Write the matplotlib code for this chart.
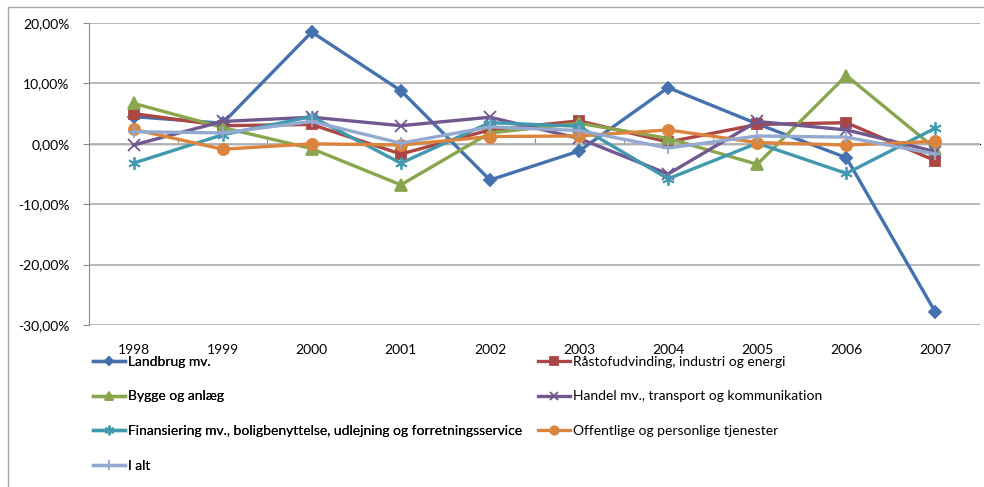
import matplotlib.pyplot as plt
from matplotlib.patches import Rectangle
from matplotlib.ticker import FuncFormatter, MultipleLocator

plt.rcParams['font.family'] = ['Lato', 'DejaVu Sans']

years = ['1998', '1999', '2000', '2001', '2002', '2003', '2004', '2005', '2006', '2007']

# vækstrater i procent
landbrug = [4.5, 3.4, 18.5, 8.8, -6.0, -1.2, 9.3, 3.3, -2.3, -27.9]
raastof = [5.0, 3.0, 3.2, -1.7, 2.3, 3.8, 0.3, 3.2, 3.5, -2.8]
bygge = [6.7, 2.7, -0.8, -6.8, 1.8, 3.4, 0.9, -3.4, 11.3, -0.8]
handel = [-0.2, 3.7, 4.4, 3.0, 4.4, 0.9, -5.0, 3.7, 2.3, -1.3]
finans = [-3.2, 1.5, 4.5, -3.2, 3.5, 2.9, -5.8, 0.1, -4.9, 2.6]
offentlig = [2.4, -0.9, 0.0, -0.2, 1.2, 1.3, 2.3, 0.2, -0.2, 0.4]
ialt = [2.0, 1.8, 3.7, 0.1, 2.8, 2.2, -0.7, 1.3, 1.1, -1.7]

labels = ['Landbrug mv.',
          'Råstofudvinding, industri og energi',
          'Bygge og anlæg',
          'Handel mv., transport og kommunikation',
          'Finansiering mv., boligbenyttelse, udlejning og forretningsservice',
          'Offentlige og personlige tjenester',
          'I alt']
series = [landbrug, raastof, bygge, handel, finans, offentlig, ialt]
colors = ['#4572AE', '#AA4643', '#89A54E', '#71588F', '#4198AF', '#DB843D', '#93A9CF']
markers = ['D', 's', '^', 'x', (6, 2, 0), 'o', '+']
msizes = [6, 7, 8, 8, 9, 8, 9]

fig = plt.figure(figsize=(9.84, 4.87), dpi=100)
ax = fig.add_axes([89 / 984, 1 - 325 / 487, 891 / 984, 302 / 487])

x = list(range(len(years)))
handles = []
for vals, lab, c, m, ms in zip(series, labels, colors, markers, msizes):
    h, = ax.plot(x, [v / 100 for v in vals], color=c, lw=2.4, marker=m,
                 markersize=ms, markeredgecolor=c, markerfacecolor=c,
                 markeredgewidth=1.3, label=lab, zorder=3)
    handles.append(h)

ax.set_xlim(-0.5, len(years) - 0.5)
ax.set_ylim(-0.30, 0.20)
ax.yaxis.set_major_locator(MultipleLocator(0.10))
ax.yaxis.set_major_formatter(FuncFormatter(lambda v, p: ('%.2f%%' % (v * 100)).replace('.', ',').replace('-0,00', '0,00')))
ax.grid(axis='y', color='#B3B3B3', lw=1.3, zorder=0)
ax.axhline(0, color='#8C8C8C', lw=1, zorder=1)

for s in ['top', 'right', 'bottom']:
    ax.spines[s].set_visible(False)
ax.spines['left'].set_color('#8C8C8C')
ax.tick_params(axis='y', length=4, color='#8C8C8C', labelsize=10, pad=10)

ax.set_xticks(x)
ax.set_xticklabels(years)
ax.tick_params(axis='x', length=0, labelsize=10, pad=14)

# tick marks on the 0-line between categories
sec = ax.secondary_xaxis(0.6)
sec.set_xticks([i + 0.5 for i in range(len(years) - 1)])
sec.set_xticklabels([])
sec.tick_params(length=4, color='#8C8C8C')
sec.spines['bottom'].set_visible(False)

leg_kw = dict(loc='upper left', frameon=False, fontsize=10, handlelength=2.3,
              handletextpad=0.2, labelspacing=1.62, borderaxespad=0,
              borderpad=0, markerscale=0.75)
leg1 = fig.legend([handles[i] for i in [0, 2, 4, 6]], [labels[i] for i in [0, 2, 4, 6]],
                  bbox_to_anchor=(93 / 984, 1 - 356 / 487), **leg_kw)
leg2 = fig.legend([handles[i] for i in [1, 3, 5]], [labels[i] for i in [1, 3, 5]],
                  bbox_to_anchor=(538 / 984, 1 - 356 / 487), **leg_kw)
fig.add_artist(leg1)

fig.patches.append(Rectangle((8 / 984, -0.05), 1.1, 1 - 7 / 487 + 0.05,
                             transform=fig.transFigure, fill=False,
                             edgecolor='#A6A6A6', lw=1))

plt.savefig('out.png', dpi=100)
